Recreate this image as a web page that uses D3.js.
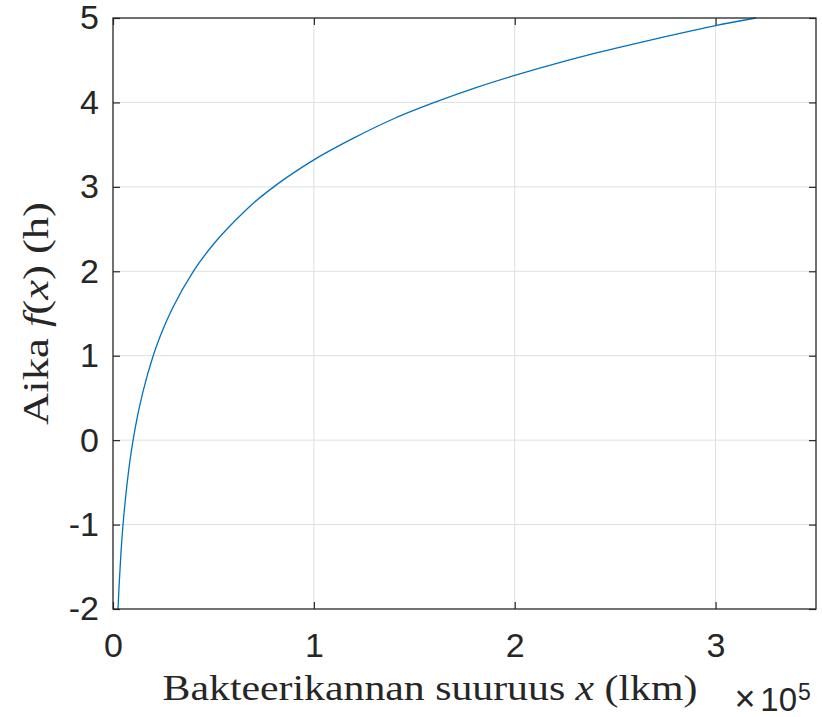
<!DOCTYPE html>
<html>
<head>
<meta charset="utf-8">
<script src="https://cdn.jsdelivr.net/npm/d3@7/dist/d3.min.js"></script>
<style>
  html, body { margin: 0; padding: 0; background: #fff; }
  svg { display: block; }
</style>
</head>
<body>
<svg id="chart" width="822" height="717"></svg>
<script>
// Bacterial population size (count) and the time it takes to reach it (hours)
const populationSize = [2500, 3000, 4000, 5000, 6000, 8000, 10000, 12500, 15000, 20000,
  25000, 30000, 40000, 50000, 60000, 70000, 80000, 100000, 120000, 140000,
  160000, 180000, 200000, 225000, 250000, 275000, 300000, 320000];
const timeHours = [-2.0, -1.74, -1.32, -1.0, -0.74, -0.32, 0.0, 0.32, 0.58, 1.0,
  1.32, 1.58, 2.0, 2.32, 2.58, 2.81, 3.0, 3.32, 3.58, 3.81,
  4.0, 4.17, 4.32, 4.49, 4.64, 4.78, 4.91, 5.0];

const xTicks = [0, 100000, 200000, 300000];
const xTickLabels = ["0", "1", "2", "3"];
const yTicks = [-2, -1, 0, 1, 2, 3, 4, 5];
const yTickLabels = ["-2", "-1", "0", "1", "2", "3", "4", "5"];

const svg = d3.select("#chart");
const plot = { left: 113, top: 18, right: 816, bottom: 609 };

const x = d3.scaleLinear().domain([0, 350000]).range([plot.left, plot.right]);
const y = d3.scaleLinear().domain([-2, 5]).range([plot.bottom, plot.top]);

const axisColor = "#262626";
const gridColor = "#dfdfdf";
const tickFont = "'Liberation Sans', Arial, Helvetica, sans-serif";
const serifFont = "'Liberation Serif', 'Times New Roman', serif";
const tickLen = 7;

// grid lines
const grid = svg.append("g");
grid.selectAll("line.gx").data(xTicks.slice(1)).join("line")
  .attr("x1", d => x(d)).attr("x2", d => x(d))
  .attr("y1", plot.top).attr("y2", plot.bottom)
  .attr("stroke", gridColor).attr("stroke-width", 1);
grid.selectAll("line.gy").data(yTicks.slice(1, -1)).join("line")
  .attr("x1", plot.left).attr("x2", plot.right)
  .attr("y1", d => y(d)).attr("y2", d => y(d))
  .attr("stroke", gridColor).attr("stroke-width", 1);

// data curve
const line = d3.line()
  .x((d, i) => x(populationSize[i]))
  .y((d, i) => y(timeHours[i]))
  .curve(d3.curveMonotoneX);
svg.append("path")
  .datum(timeHours)
  .attr("d", line)
  .attr("fill", "none")
  .attr("stroke", "#0072BD")
  .attr("stroke-width", 1.3);

// axes: bottom/left carry labels, top/right mirror the inward ticks
function styleAxis(g) {
  g.select(".domain").remove();
  g.selectAll(".tick line").attr("stroke", axisColor).attr("stroke-width", 1.2);
  g.selectAll(".tick text").attr("fill", axisColor)
    .style("font-family", tickFont).style("font-size", "34px");
}

const xAxis = svg.append("g")
  .attr("transform", `translate(0,${plot.bottom})`)
  .call(d3.axisBottom(x).tickValues(xTicks)
    .tickFormat((d, i) => xTickLabels[i]).tickSizeInner(-tickLen).tickSizeOuter(0).tickPadding(24));
styleAxis(xAxis);

const yAxis = svg.append("g")
  .attr("transform", `translate(${plot.left},0)`)
  .call(d3.axisLeft(y).tickValues(yTicks)
    .tickFormat((d, i) => yTickLabels[i]).tickSizeInner(-tickLen).tickSizeOuter(0).tickPadding(14));
styleAxis(yAxis);

const xAxisTop = svg.append("g")
  .attr("transform", `translate(0,${plot.top})`)
  .call(d3.axisTop(x).tickValues(xTicks).tickFormat("").tickSizeInner(-tickLen).tickSizeOuter(0));
styleAxis(xAxisTop);

const yAxisRight = svg.append("g")
  .attr("transform", `translate(${plot.right},0)`)
  .call(d3.axisRight(y).tickValues(yTicks).tickFormat("").tickSizeInner(-tickLen).tickSizeOuter(0));
styleAxis(yAxisRight);

// axes box
svg.append("rect")
  .attr("x", plot.left).attr("y", plot.top)
  .attr("width", plot.right - plot.left).attr("height", plot.bottom - plot.top)
  .attr("fill", "none").attr("stroke", axisColor).attr("stroke-width", 1.3);

// exponent marker for the x axis: ×10^5
const expo = svg.append("g")
  .attr("fill", axisColor)
  .style("font-family", tickFont);
expo.append("text").attr("x", 745).attr("y", 711).attr("text-anchor", "middle")
  .style("font-size", "36px").style("font-weight", "300").text("\u00d7");
expo.append("text").attr("x", 797).attr("y", 711).attr("text-anchor", "end")
  .style("font-size", "33px").text("10");
expo.append("text").attr("x", 798).attr("y", 700).attr("text-anchor", "start")
  .style("font-size", "23px").text("5");

// axis titles in a serif face, with italic math symbols
function fitWidth(sel, target, cx, cy, rotate) {
  const bb = sel.node().getBBox();
  const s = target / bb.width;
  sel.attr("transform", rotate
    ? `translate(${cx},${cy}) rotate(-90) scale(${s},1)`
    : `translate(${cx},${cy}) scale(${s},1)`);
}

const xTitle = svg.append("text")
  .attr("text-anchor", "middle")
  .attr("fill", axisColor)
  .style("font-family", serifFont).style("font-size", "35px");
xTitle.append("tspan").text("Bakteerikannan suuruus ");
xTitle.append("tspan").text("x").style("font-style", "italic");
xTitle.append("tspan").text(" (lkm)");
fitWidth(xTitle, 535, 430, 700, false);

const yTitle = svg.append("text")
  .attr("text-anchor", "middle")
  .attr("fill", axisColor)
  .style("font-family", serifFont).style("font-size", "35px");
yTitle.append("tspan").text("Aika ");
yTitle.append("tspan").text("f").style("font-style", "italic");
yTitle.append("tspan").text("(");
yTitle.append("tspan").text("x").style("font-style", "italic");
yTitle.append("tspan").text(") (h)");
fitWidth(yTitle, 223, 48, 313.5, true);
</script>
</body>
</html>
